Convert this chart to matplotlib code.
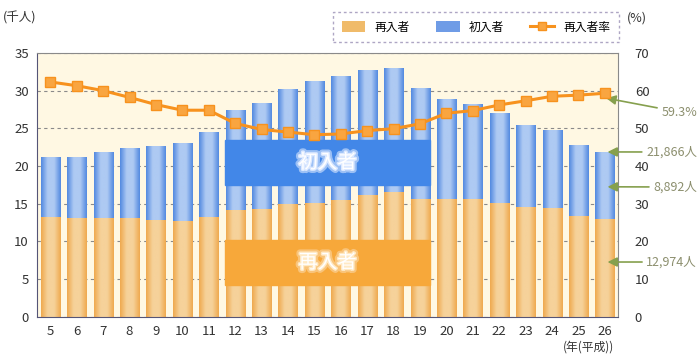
import numpy as np
import matplotlib
matplotlib.use("Agg")
import matplotlib.pyplot as plt
from matplotlib.colors import LinearSegmentedColormap
from matplotlib.patches import Patch, Rectangle
from matplotlib.lines import Line2D
import matplotlib.patheffects as pe

plt.rcParams['font.family'] = ['Noto Sans CJK JP', 'DejaVu Sans']

# 年（平成）
years = list(range(5, 27))
# 再入者（千人）
reentry = [13.27, 13.06, 13.10, 13.06, 12.83, 12.70, 13.30, 14.16, 14.30, 14.90, 15.10,
           15.50, 16.15, 16.60, 15.60, 15.67, 15.58, 15.13, 14.60, 14.47, 13.40, 12.974]
# 入所受刑者総数（千人）
total = [21.16, 21.16, 21.80, 22.35, 22.60, 23.05, 24.47, 27.40, 28.40, 30.20, 31.30,
         32.00, 32.70, 33.00, 30.30, 28.90, 28.20, 27.05, 25.40, 24.80, 22.75, 21.866]
first = [t - r for t, r in zip(total, reentry)]
# 再入者率（%）
rate = [62.3, 61.3, 60.0, 58.2, 56.3, 54.8, 54.8, 51.3, 49.7, 49.0, 48.3,
        48.5, 49.4, 49.9, 51.2, 54.0, 54.7, 56.2, 57.3, 58.5, 58.8, 59.3]

last_labels = ["59.3%", "21,866人", "8,892人", "12,974人"]

orange_edge, orange_mid = "#efa94e", "#f6d29a"
blue_edge, blue_mid = "#5289e0", "#aecaf3"
line_col = "#f7921e"
arrow_col = "#86a04e"
text_col = "#8c8f6e"

fig = plt.figure(figsize=(7, 3.6), dpi=100)
ax = fig.add_axes([0.053, 0.12, 0.83, 0.733])
ax.set_facecolor("#fff8e3")

w = 0.72
b1 = ax.bar(years, reentry, width=w, color=orange_edge, zorder=2)
b2 = ax.bar(years, first, bottom=reentry, width=w, color=blue_edge, zorder=2)

# 円柱風のグラデーション
grad = np.linspace(0, 1, 64).reshape(1, -1)
cm_o = LinearSegmentedColormap.from_list("o", [orange_edge, orange_mid, orange_mid, orange_edge], N=256)
cm_b = LinearSegmentedColormap.from_list("b", [blue_edge, blue_mid, blue_mid, blue_edge], N=256)
for bars, cm in ((b1, cm_o), (b2, cm_b)):
    for p in bars:
        x0, y0 = p.get_x(), p.get_y()
        im = ax.imshow(grad, extent=[x0, x0 + p.get_width(), y0, y0 + p.get_height()],
                       cmap=cm, aspect="auto", zorder=2.5, interpolation="bicubic")
        im.set_clip_path(p)

ax.set_xlim(4.5, 26.5)
ax.set_ylim(0, 35)
ax.set_yticks(range(0, 36, 5))
ax.set_xticks(years)
ax.yaxis.grid(True, linestyle=(0, (3, 3)), color="#8a8a8a", linewidth=0.8)
ax.set_axisbelow(True)
ax.tick_params(length=0, labelsize=9.5, colors="#333333", pad=6)
for s in ax.spines.values():
    s.set_color("#8a8a8a")
ax.spines['left'].set_color("#555577")
ax.spines['bottom'].set_color("#555577")

# 中央のラベル帯
ax.add_patch(Rectangle((11.62, 17.5), 19.36 - 11.62, 5.9, color="#4287e8", zorder=4))
ax.add_patch(Rectangle((11.62, 4.2), 19.36 - 11.62, 6.0, color="#f7a83a", zorder=4))
glow_b = [pe.withStroke(linewidth=5, foreground="#9cc0f5"), pe.withStroke(linewidth=2, foreground="#dbe8ff")]
glow_o = [pe.withStroke(linewidth=5, foreground="#f9c47a"), pe.withStroke(linewidth=2, foreground="#ffe9c4")]
ax.text(15.5, 20.45, "初入者", color="white", fontsize=14, ha="center", va="center", zorder=5,
        path_effects=glow_b)
ax.text(15.5, 7.2, "再入者", color="white", fontsize=14, ha="center", va="center", zorder=5,
        path_effects=glow_o)

ax2 = ax.twinx()
ax2.set_ylim(0, 70)
ax2.set_yticks(range(0, 71, 10))
ax2.tick_params(length=0, labelsize=9.5, colors="#333333", pad=12)
for s in ax2.spines.values():
    s.set_visible(False)
ax2.plot(years, rate, color=line_col, linewidth=2.2, marker="s", markersize=6.5,
         markerfacecolor="#f9a540", markeredgecolor=line_col, zorder=6)

# 右側の注記
ap = dict(arrowstyle="-|>", color=arrow_col, lw=1.2, mutation_scale=14, shrinkA=1, shrinkB=0)
ax2.annotate(last_labels[0], xy=(26.05, rate[-1] - 1.3), xytext=(697, 248), textcoords="figure pixels",
             ha="right", va="center", fontsize=9, color=text_col, arrowprops=ap, annotation_clip=False)
ax.annotate(last_labels[1], xy=(26.1, total[-1]), xytext=(697, 208), textcoords="figure pixels",
            ha="right", va="center", fontsize=9, color=text_col, arrowprops=ap, annotation_clip=False)
ax.annotate(last_labels[2], xy=(26.1, reentry[-1] + first[-1] * 0.48), xytext=(697, 173),
            textcoords="figure pixels", ha="right", va="center", fontsize=9, color=text_col,
            arrowprops=ap, annotation_clip=False)
ax.annotate(last_labels[3], xy=(26.1, reentry[-1] * 0.56), xytext=(697, 98),
            textcoords="figure pixels", ha="right", va="center", fontsize=9, color=text_col,
            arrowprops=ap, annotation_clip=False)

fig.text(3, 342, "(千人)", transform=None, fontsize=9, color="#333333", va="center")
fig.text(627, 342, "(%)", transform=None, fontsize=9, color="#333333", va="center")
fig.text(614, 13, "(年(平成))", transform=None, fontsize=8.5, color="#333333", ha="right", va="center")

handles = [Patch(facecolor="#f0bb6a", edgecolor="none"),
           Patch(facecolor="#6f9ce6", edgecolor="none"),
           Line2D([], [], color=line_col, lw=2.2, marker="s", markersize=6, markerfacecolor="#f9a540")]
leg = fig.legend(handles, ["再入者", "初入者", "再入者率"], ncol=3, loc="center",
                 bbox_to_anchor=(476 / 700, 1 - 27 / 360), fontsize=8.5, frameon=True,
                 handlelength=2.0, handleheight=1.1, columnspacing=2.2, borderpad=0.7,
                 fancybox=False)
fr = leg.get_frame()
fr.set_linestyle((0, (2, 2)))
fr.set_edgecolor("#9a90b6")
fr.set_linewidth(1.0)

fig.savefig("out.png", dpi=100)
